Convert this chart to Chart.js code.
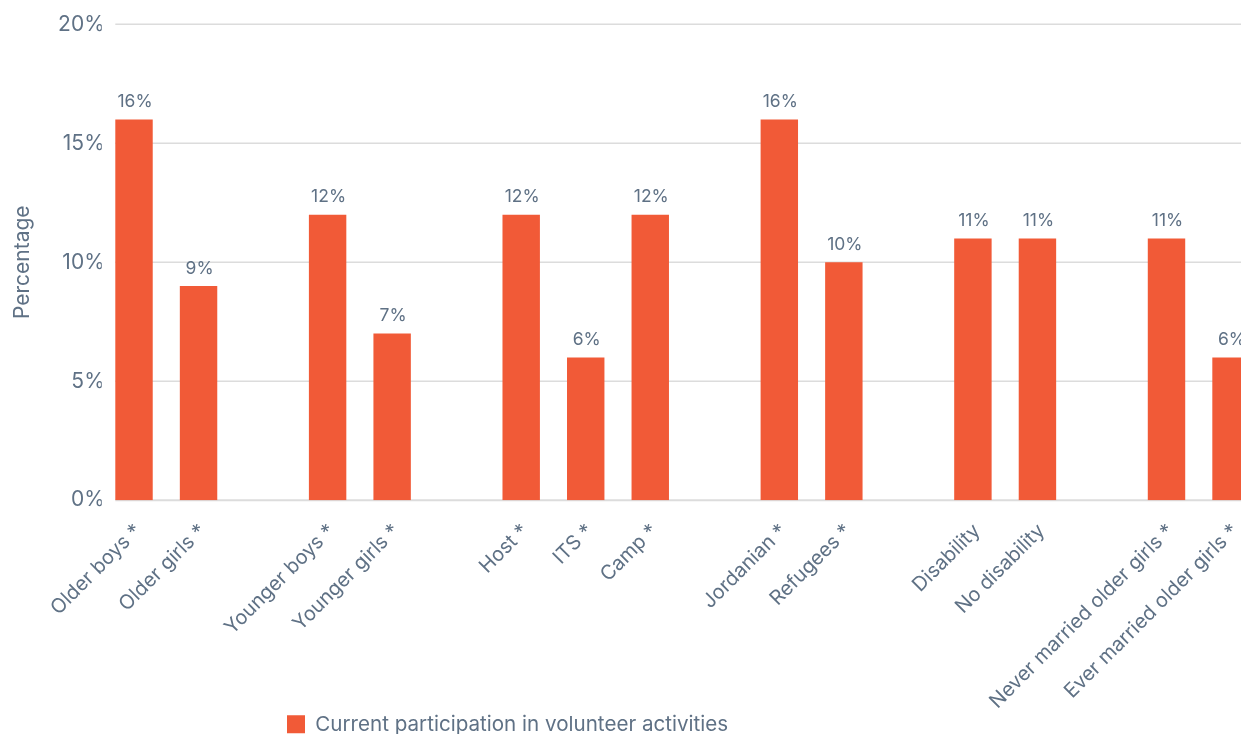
<!DOCTYPE html>
<html>
<head>
<meta charset="utf-8">
<title>Current participation in volunteer activities</title>
<script src="https://cdn.jsdelivr.net/npm/chart.js@4/dist/chart.umd.min.js"></script>
<style>
  html, body { margin: 0; padding: 0; background: #ffffff; overflow: hidden; }
  #wrap { position: relative; width: 1267px; height: 773px; }
</style>
</head>
<body>
<div id="wrap"><canvas id="chart"></canvas></div>
<script>
// Groups are separated by an empty category slot
const categories = [
  'Older boys *', 'Older girls *', '',
  'Younger boys *', 'Younger girls *', '',
  'Host *', 'ITS *', 'Camp *', '',
  'Jordanian *', 'Refugees *', '',
  'Disability', 'No disability', '',
  'Never married older girls *', 'Ever married older girls *'
];
const participation = [16, 9, null, 12, 7, null, 12, 6, 12, null, 16, 10, null, 11, 11, null, 11, 6];
const yTickValues = [0, 5, 10, 15, 20];
const seriesLabel = 'Current participation in volunteer activities';
const yTitle = 'Percentage';

const FONT = 'Inter, "Liberation Sans", Arial, sans-serif';
const TEXT = '#5f7185';
const BAR = '#f15a37';
const GRID = '#dcdcdc';

// Horizontal value lines, starting at the left edge of the first bar
const valueLines = {
  id: 'valueLines',
  beforeDatasetsDraw(chart) {
    const { ctx, chartArea, scales: { y } } = chart;
    const first = chart.getDatasetMeta(0).data[0];
    const x0 = first.x - first.width / 2;
    ctx.save();
    ctx.strokeStyle = GRID;
    yTickValues.forEach(v => {
      const py = y.getPixelForValue(v);
      ctx.lineWidth = v === 0 ? 2 : 1.5;
      ctx.beginPath();
      ctx.moveTo(x0, py);
      ctx.lineTo(chartArea.right, py);
      ctx.stroke();
    });
    ctx.restore();
  }
};

// Percentage printed above every bar
const barValues = {
  id: 'barValues',
  afterDatasetsDraw(chart) {
    const { ctx } = chart;
    const meta = chart.getDatasetMeta(0);
    ctx.save();
    ctx.font = '17.5px ' + FONT;
    ctx.fillStyle = TEXT;
    ctx.textAlign = 'center';
    ctx.textBaseline = 'alphabetic';
    meta.data.forEach((bar, i) => {
      const v = participation[i];
      if (v === null) return;
      ctx.fillText(v + '%', bar.x + 1, bar.y - 12.5);
    });
    ctx.restore();
  }
};

// Legend sits under the left half of the plot, just below the longest labels
const legendPlacement = {
  id: 'legendPlacement',
  afterLayout(chart) {
    const lg = chart.legend;
    const w = lg.right - lg.left;
    const h = lg.bottom - lg.top;
    lg.left = 277;
    lg.right = lg.left + w;
    lg.top = 704;
    lg.bottom = lg.top + h;
  }
};

new Chart(document.getElementById('chart'), {
  type: 'bar',
  data: {
    labels: categories,
    datasets: [{
      label: seriesLabel,
      data: participation,
      backgroundColor: BAR,
      borderWidth: 0,
      barPercentage: 0.58,
      categoryPercentage: 1.0
    }]
  },
  options: {
    responsive: true,
    maintainAspectRatio: false,
    animation: false,
    layout: { padding: { top: 24.3, right: 0, bottom: 0, left: 0 } },
    plugins: {
      legend: {
        position: 'bottom',
        align: 'start',
        labels: {
          color: TEXT,
          font: { family: FONT, size: 20.6 },
          boxWidth: 18,
          boxHeight: 18,
          padding: 10
        }
      },
      tooltip: { enabled: false }
    },
    scales: {
      x: {
        grid: { display: false, drawTicks: false },
        border: { display: false },
        ticks: {
          color: TEXT,
          font: { family: FONT, size: 20 },
          minRotation: 45,
          maxRotation: 45,
          autoSkip: false,
          padding: 19,
          labelOffset: 4
        }
      },
      y: {
        min: 0,
        max: 20,
        grid: { display: false, drawTicks: false },
        border: { display: false },
        afterFit(scale) { scale.width = 101.75; },
        afterBuildTicks(scale) { scale.ticks = yTickValues.map(v => ({ value: v })); },
        ticks: {
          color: TEXT,
          font: { family: FONT, size: 21 },
          padding: -3,
          callback: v => v + '%'
        },
        title: {
          display: true,
          text: yTitle,
          color: TEXT,
          font: { family: FONT, size: 21 },
          padding: { top: 10, bottom: 0 }
        }
      }
    }
  },
  plugins: [valueLines, barValues, legendPlacement]
});
</script>
</body>
</html>
